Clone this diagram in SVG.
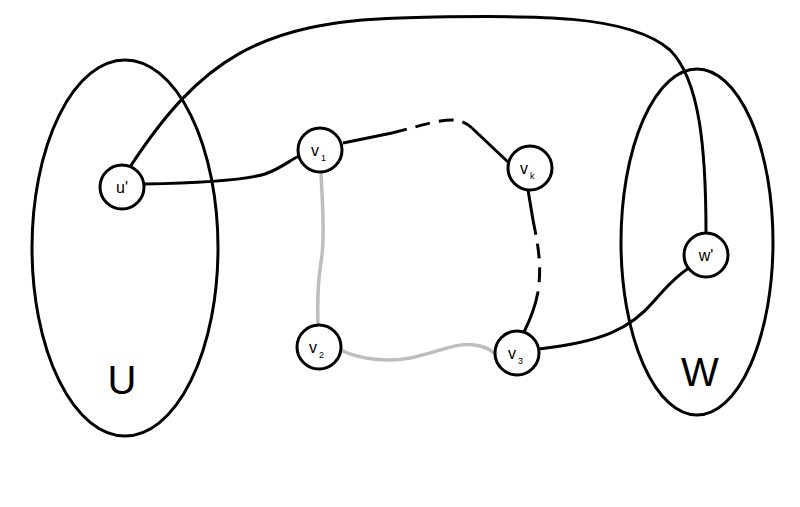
<svg xmlns="http://www.w3.org/2000/svg" width="800" height="507" viewBox="0 0 800 507">
<style>
.set{fill:none;stroke:#000;stroke-width:3}
.node circle{fill:#fff;stroke:#000;stroke-width:3}
.e{fill:none;stroke:#000;stroke-width:3;stroke-linecap:butt}
.g{fill:none;stroke:#bdbdbd;stroke-width:3.5}
.d{stroke-dasharray:15 9}
text{font-family:"Liberation Sans",Arial,sans-serif;fill:#000}
.lbl{font-size:16px}
.sub{font-size:9px}
.big{font-size:40px}
</style>
<rect width="800" height="507" fill="#fff"/>
<g id="set-U"><ellipse class="set" cx="125" cy="248" rx="93" ry="188"/><text class="big" x="122" y="394" text-anchor="middle">U</text></g>
<g id="set-W"><ellipse class="set" cx="697" cy="242" rx="76" ry="173"/><text class="big" x="700" y="386" text-anchor="middle">W</text></g>
<g id="connectors">
<path class="e" d="M130,167 C 200,60 260,22 400,18 C 540,14 630,15 670,50 C 700,80 706,150 706,233"/>
<path class="e" d="M144,184 C 200,183 245,180 265,174 C 282,168 290,160 299,156"/>
<path class="e" d="M343,143 L 392,133"/>
<path class="e d" d="M392,133 C 420,126 440,119 455,120 C 462,121 468,124 472,128"/>
<path class="e" d="M472,128 L 508,162"/>
<path class="e" d="M528,190 L 533,220"/>
<path class="e d" d="M533,220 C 538,245 542,265 538,292"/>
<path class="e" d="M538,292 C 535,308 530,320 524,332"/>
<path class="e" d="M539,349 C 600,342 630,330 655,300 C 667,286 678,275 689,268"/>
<path class="g" d="M321,172 C 322,200 325,230 322,255 C 319,275 317,290 318,325"/>
<path class="g" d="M341,350 C 360,360 390,362 410,358 C 440,352 460,340 480,346 C 488,348 492,351 495,354"/>
</g>
<g id="node-u" class="node"><circle cx="122" cy="187" r="22"/><text class="lbl" x="122" y="193" text-anchor="middle">u'</text></g>
<g id="node-v1" class="node"><circle cx="320" cy="150" r="22"/><text class="lbl" x="311" y="156">v</text><text class="sub" x="321" y="161">1</text></g>
<g id="node-vk" class="node"><circle cx="530" cy="168" r="22"/><text class="lbl" x="520" y="174">v</text><text class="sub" x="530" y="179">k</text></g>
<g id="node-v2" class="node"><circle cx="319" cy="347" r="22"/><text class="lbl" x="309" y="353">v</text><text class="sub" x="319" y="358">2</text></g>
<g id="node-v3" class="node"><circle cx="517" cy="353" r="22"/><text class="lbl" x="508" y="359">v</text><text class="sub" x="518" y="364">3</text></g>
<g id="node-w" class="node"><circle cx="706" cy="255" r="22"/><text class="lbl" x="706" y="261" text-anchor="middle">w'</text></g>
</svg>
